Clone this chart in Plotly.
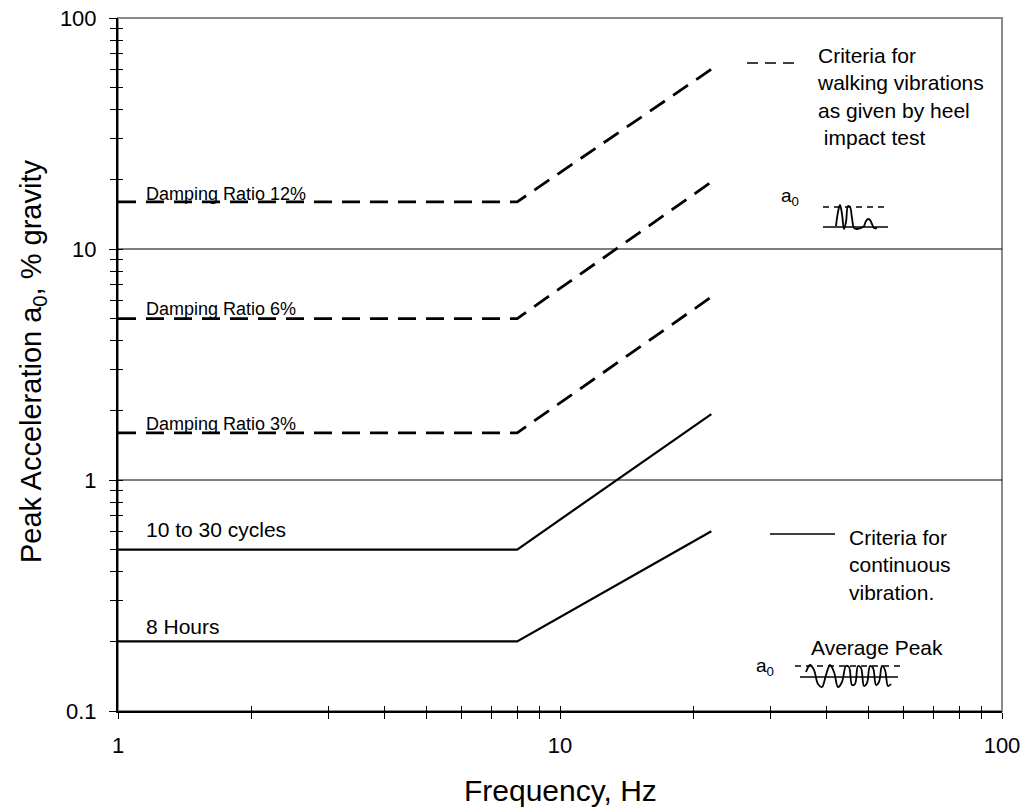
import plotly.graph_objects as go

# ---------------- data ----------------
FREQ = [1, 8, 22]
WALK_12 = [16, 16, 60]
WALK_6 = [5, 5, 19.5]
WALK_3 = [1.6, 1.6, 6.2]
CONT_CYCLES = [0.5, 0.5, 1.93]
CONT_8H = [0.2, 0.2, 0.6]
GRID_Y = [1, 10]
X_RANGE = [1, 100]

X_MAJOR = [1, 10, 100]
X_MAJOR_TEXT = ["1", "10", "100"]
X_MINOR = [2, 3, 4, 5, 6, 7, 8, 9, 20, 30, 40, 50, 60, 70, 80, 90]
Y_MAJOR = [0.1, 1, 10, 100]
Y_MAJOR_TEXT = ["0.1", "1", "10", "100"]
Y_MINOR = [0.2, 0.3, 0.4, 0.5, 0.6, 0.7, 0.8, 0.9,
           2, 3, 4, 5, 6, 7, 8, 9, 20, 30, 40, 50, 60, 70, 80, 90]

# decorative icon sketches (pixel space of the plot area)
ICON1_DASH_X = [823, 888]
ICON1_DASH_Y = [207, 207]
ICON1_BASE_X = [823, 888]
ICON1_BASE_Y = [227, 227]
ICON1_WAVE_X = [836, 838, 840, 842, 844, 846, 848, 850, 852, 854, 857, 861, 864, 866, 868, 870, 872, 874, 877]
ICON1_WAVE_Y = [226, 212, 205, 214, 229, 222, 206, 207, 218, 228, 229, 228, 226, 221, 219, 220, 224, 228, 228]
ICON2_DASH_X = [795, 900]
ICON2_DASH_Y = [666, 666]
ICON2_BASE_X = [800, 898]
ICON2_BASE_Y = [677, 677]
ICON2_WAVE_X = [806, 810, 814, 818, 822, 826, 830, 834, 838, 842, 846, 849, 852, 855, 858, 861, 864, 867, 870, 873, 876, 879, 882, 885, 888, 891]
ICON2_WAVE_Y = [672, 665, 670, 684, 687, 675, 665, 672, 687, 682, 666, 667, 685, 684, 666, 668, 686, 683, 666, 668, 685, 682, 666, 670, 686, 684]
LEG_DASH_X = [747, 800]
LEG_DASH_Y = [63, 63]
LEG_SOLID_X = [770, 835]
LEG_SOLID_Y = [534, 534]

# ---------------- geometry helpers ----------------
W, H = 1029, 812
PAGE_OFF = 0  # body margin removed by post_script
L, R, T, B = 118, 1002, 18, 711  # plot area in screen pixels


def px(x):
    return (x - L) / (R - L)


def py(y):
    return (B - y) / (B - T)


FONT = "Liberation Sans, Arial, sans-serif"

fig = go.Figure()

# gridlines
for g in GRID_Y:
    fig.add_trace(go.Scatter(x=X_RANGE, y=[g, g], mode="lines",
                             line=dict(color="black", width=1),
                             hoverinfo="skip", showlegend=False))

dash_style = dict(color="black", width=2.8, dash="18px,10px")
solid_style = dict(color="black", width=2.2)
for ys in (WALK_12, WALK_6, WALK_3):
    fig.add_trace(go.Scatter(x=FREQ, y=ys, mode="lines", line=dash_style,
                             showlegend=False))
for ys in (CONT_CYCLES, CONT_8H):
    fig.add_trace(go.Scatter(x=FREQ, y=ys, mode="lines", line=solid_style,
                             showlegend=False))

# invisible trace for tick overlay axes
fig.add_trace(go.Scatter(x=[FREQ[0]], y=[WALK_12[0]], xaxis="x2", yaxis="y2",
                         mode="markers", marker=dict(opacity=0),
                         hoverinfo="skip", showlegend=False))


# icons in pixel-space overlay axes
def pix_line(xs, ys, width=1.6, dash=None, shape="linear"):
    fig.add_trace(go.Scatter(x=xs, y=ys, xaxis="x3", yaxis="y3", mode="lines",
                             line=dict(color="black", width=width, dash=dash,
                                       shape=shape),
                             hoverinfo="skip", showlegend=False))


pix_line(ICON1_DASH_X, ICON1_DASH_Y, 1.5, "6px,5px")
pix_line(ICON1_BASE_X, ICON1_BASE_Y, 1.6)
pix_line(ICON1_WAVE_X, ICON1_WAVE_Y, 1.8, shape="spline")
pix_line(ICON2_DASH_X, ICON2_DASH_Y, 1.5, "6px,5px")
pix_line(ICON2_BASE_X, ICON2_BASE_Y, 1.6)
pix_line(ICON2_WAVE_X, ICON2_WAVE_Y, 1.8, shape="spline")
pix_line(LEG_DASH_X, LEG_DASH_Y, 1.6, "11px,7px")
pix_line(LEG_SOLID_X, LEG_SOLID_Y, 1.6)

# border (gray top/right)
fig.add_shape(type="rect", xref="paper", yref="paper", x0=0, x1=1, y0=0, y1=1,
              line=dict(color="#8a8a8a", width=2), layer="below")

ann = []


def text(x, y, s, size, xanchor="left", yanchor="middle", angle=0, align="left"):
    ann.append(dict(x=px(x), y=py(y), xref="paper", yref="paper", text=s,
                    showarrow=False, xanchor=xanchor, yanchor=yanchor,
                    textangle=angle, align=align, borderpad=0,
                    font=dict(family=FONT, size=size, color="black")))


text(145, 194, "Damping Ratio 12%", 18)
text(145, 309, "Damping Ratio 6%", 18)
text(145, 424, "Damping Ratio 3%", 18)
text(145, 529, "10 to 30 cycles", 21)
text(145, 626, "8 Hours", 21)
text(816, 97, "Criteria for<br>walking vibrations<br>as given by heel<br>\u00a0impact test", 21)
text(848, 565, "Criteria for<br>continuous<br>vibration.", 21)
text(780, 197, "a<sub>0</sub>", 19)
text(755, 667, "a<sub>0</sub>", 19)
text(877, 647, "Average Peak", 21, xanchor="center")
text(560, 790, "Frequency, Hz", 30, xanchor="center")
text(33, 362, "Peak Acceleration a<sub>0</sub>, % gravity", 29, xanchor="center", angle=-90)

axis_common = dict(type="log", showgrid=False, zeroline=False, automargin=False)

fig.update_layout(
    width=W, height=H,
    margin=dict(l=L - PAGE_OFF, r=W - (R - PAGE_OFF), t=T - PAGE_OFF,
                b=H - (B - PAGE_OFF), autoexpand=False),
    paper_bgcolor="white", plot_bgcolor="white",
    font=dict(family=FONT, color="black"),
    showlegend=False,
    annotations=ann,
    xaxis=dict(**axis_common, range=[0, 2], showline=True, linecolor="black",
               linewidth=2, tickmode="array", tickvals=X_MAJOR,
               ticktext=X_MAJOR_TEXT, ticks="outside", ticklen=6, tickwidth=1,
               tickcolor="black", tickfont=dict(size=22),
               ticklabelstandoff=8, ticklabeloverflow="allow",
               minor=dict(tickvals=X_MINOR, ticks="outside", ticklen=6,
                          tickwidth=1, tickcolor="black")),
    yaxis=dict(**axis_common, range=[-1, 2], showline=True, linecolor="black",
               linewidth=2, tickmode="array", tickvals=Y_MAJOR,
               ticktext=Y_MAJOR_TEXT, ticks="outside", ticklen=7, tickwidth=1,
               tickcolor="black", tickfont=dict(size=22),
               ticklabelstandoff=8, ticklabeloverflow="allow",
               minor=dict(tickvals=Y_MINOR, ticks="outside", ticklen=6,
                          tickwidth=1, tickcolor="black")),
    xaxis2=dict(**axis_common, range=[0, 2], overlaying="x", anchor="y",
                side="bottom", showline=False, showticklabels=False,
                tickmode="array", tickvals=X_MAJOR, ticks="inside", ticklen=5,
                tickwidth=1, tickcolor="black",
                minor=dict(tickvals=X_MINOR, ticks="inside", ticklen=5,
                           tickwidth=1, tickcolor="black")),
    yaxis2=dict(**axis_common, range=[-1, 2], overlaying="y", anchor="x",
                side="left", showline=False, showticklabels=False,
                tickmode="array", tickvals=Y_MAJOR, ticks="inside", ticklen=5,
                tickwidth=1, tickcolor="black",
                minor=dict(tickvals=Y_MINOR, ticks="inside", ticklen=5,
                           tickwidth=1, tickcolor="black")),
    xaxis3=dict(range=[L, R], overlaying="x", visible=False),
    yaxis3=dict(range=[B, T], overlaying="y", visible=False),
)

fig.write_html("out.html",
               config={"displayModeBar": False},
               post_script="document.body.style.margin='0px';")
